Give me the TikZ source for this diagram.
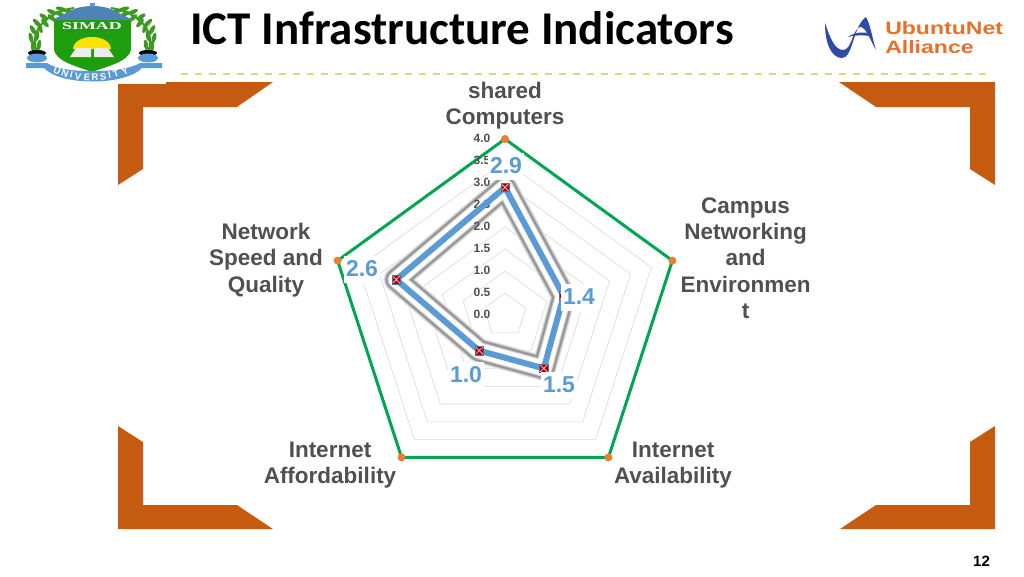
\documentclass[tikz,border=0pt]{standalone}
\usepackage{fontspec}
\setmainfont{Liberation Sans}
\newfontfamily\titlefont{Carlito}
\newfontfamily\logofont{Liberation Serif}
\usetikzlibrary{shapes.geometric}
\definecolor{bracketorange}{HTML}{C55A11}
\definecolor{ringgreen}{HTML}{00A651}
\definecolor{dotorange}{HTML}{ED7D31}
\definecolor{seriesblue}{HTML}{5B9BD5}
\definecolor{labelgray}{HTML}{505050}
\definecolor{shieldgreen}{HTML}{1E9E0E}
\definecolor{leafgreen}{HTML}{3C9A1E}
\definecolor{ubuntublue}{HTML}{2F4BA8}
\definecolor{ubuntuorange}{HTML}{E8702A}
\tikzset{
	axislabel/.style={text=labelgray, font=\fontsize{22.5}{26.3}\selectfont\bfseries, align=center, inner sep=0pt},
	ticklabel/.style={text=labelgray, font=\fontsize{12}{14}\selectfont\bfseries, inner sep=0pt},
	valuelabel/.style={fill=white, text=seriesblue, font=\fontsize{23}{26}\selectfont\bfseries, inner sep=0pt, minimum width=36pt, minimum height=27pt},
	bracket/.style={fill=bracketorange},
	outerdot/.style={circle, fill=dotorange, inner sep=0pt, minimum size=8pt},
	marker/.style={rectangle, fill=red!70!black, draw=gray!80!blue, line width=0.5pt, inner sep=0pt, minimum size=8.5pt, path picture={\draw[gray!30, line width=0.7pt] (path picture bounding box.south west) -- (path picture bounding box.north east) (path picture bounding box.south east) -- (path picture bounding box.north west);}},
	leaf/.style={fill=leafgreen, ellipse, inner sep=0pt, minimum width=11pt, minimum height=4.4pt},
	ring/.style={gray!30, line width=0.6pt}
}
\newcommand{\ringpath}[1]{({505+22*#1*sin(0)},{315-22*#1*cos(0)}) -- ({505+22*#1*sin(72)},{315-22*#1*cos(72)}) --
	({505+22*#1*sin(144)},{315-22*#1*cos(144)}) -- ({505+22*#1*sin(216)},{315-22*#1*cos(216)}) --
	({505+22*#1*sin(288)},{315-22*#1*cos(288)}) -- cycle}
\begin{document}
\begin{tikzpicture}[x=1pt, y=-1pt]
	\useasboundingbox[fill=white] (0,0) rectangle (1024,576);

	% title and rule
	\node[inner sep=0pt, anchor=west, font=\titlefont\fontsize{47}{50}\selectfont\bfseries] (title) at (190,28) {ICT Infrastructure Indicators};
	\coordinate (ruleleft) at (181,74);
	\coordinate (ruleright) at (987,74);
	\draw[draw=yellow!55!gray!70, line width=1.4pt, dash pattern=on 7pt off 7pt] (ruleleft) -- (ruleright);

	% corner brackets
	\fill[bracket] (118,84) -- (166,84) -- (166,82) -- (273,82) -- (237,107) -- (143,107) -- (143,169) -- (118,185) -- cycle;
	\fill[bracket] (839,82) -- (995,82) -- (995,185) -- (970,169) -- (970,107) -- (876,107) -- cycle;
	\fill[bracket] (118,426) -- (143,442) -- (143,505) -- (237,505) -- (273,529) -- (118,529) -- cycle;
	\fill[bracket] (995,426) -- (995,529) -- (840,529) -- (876,505) -- (970,505) -- (970,442) -- cycle;

	% simad logo
	\draw[leafgreen, line width=2pt] (37,52) .. controls (28,30) and (48,12) .. (74,8);
	\draw[leafgreen, line width=2pt] (148,52) .. controls (157,30) and (137,12) .. (111,8);
	\foreach \x/\y/\a in {33/46/90, 31/38/75, 33/30/60, 37/23/45, 44/17/35, 52/12/25, 61/9/15,
		39/45/100, 37/36/100, 40/28/70, 45/23/50, 52/18/40, 60/14/25, 68/11/15}
	{
		\node[leaf, rotate=-\a] at (\x,\y) {};
		\node[leaf, rotate=\a] at (185-\x,\y) {};
	}
	\fill[black] (37,53) ellipse (9 and 3);
	\fill[black] (148,53) ellipse (9 and 3);
	\fill[seriesblue] (37,58) ellipse (10 and 4.5);
	\fill[seriesblue] (148,58) ellipse (10 and 4.5);
	\fill[shieldgreen] (54,20) -- (131,20) -- (131,50) .. controls (128,62) and (108,66) .. (92,72) .. controls (76,66) and (57,62) .. (54,50) -- cycle;
	\fill[seriesblue] (26,63) -- (47,63) .. controls (62,74) and (122,74) .. (140,63) -- (162,63) -- (162,68) -- (142,68) .. controls (125,86) and (60,86) .. (44,68) -- (26,68) -- cycle;
	\fill[seriesblue!85!black] (52,20) -- (74,9) .. controls (85,5) and (100,5) .. (111,9) -- (133,20) -- cycle;
	\fill[seriesblue] (89.5,2.5) rectangle (94.5,7);
	\fill[yellow!85!orange] (73,49) .. controls (74,33) and (110,33) .. (111,49) -- cycle;
	\fill[white!85!gray] (76,48) -- (91,48) -- (91,57) -- (70,57) -- cycle;
	\fill[white!85!gray] (94,48) -- (108,48) -- (114,57) -- (94,57) -- cycle;
	\node[inner sep=0pt, text=white, xscale=1.7, transform shape, font=\logofont\fontsize{10.5}{11}\selectfont\bfseries] (simad) at (92,26.5) {SIMAD};
	\foreach \c/\x/\y/\a in {U/57/71/-24, N/65/73.5/-19, I/71.5/75/-14, V/78/76.5/-9, E/87/77/-3, R/95/77/2, S/103/76.5/7, I/109.5/75/12, T/116/73.5/17, Y/125/71/23}
		\node[inner sep=0pt, text=white, rotate=\a, font=\fontsize{9.5}{10}\selectfont\bfseries] at (\x,\y) {\c};

	% ubuntunet logo
	\fill[ubuntublue] (825,23) .. controls (825,45) and (832,58) .. (842,58) .. controls (853,58) and (853,26) .. (866,17) .. controls (871,26) and (873,42) .. (876,50) .. controls (872,44) and (866,26) .. (860,27) .. controls (852,30) and (852,50) .. (843,50) .. controls (835,50) and (830,38) .. (825,23) -- cycle;
	\fill[ubuntublue] (848,37) .. controls (855,32) and (862,32) .. (869,33) -- (870,36) .. controls (862,35) and (855,35) .. (848,37) -- cycle;
	\node[inner sep=0pt, anchor=west, align=left, text=ubuntuorange, xscale=1.28, transform shape, font=\fontsize{18}{19.5}\selectfont\bfseries] (ubuntu) at (885,37.5) {UbuntuNet\\Alliance};

	% rings
	\foreach \v in {1,...,7}
		\draw[ring] \ringpath{\v};

	% outer ring
	\foreach \i in {0,...,4}
		\coordinate (outer\i) at ({505+176*sin(72*\i)},{315-176*cos(72*\i)});
	\draw[ringgreen, line width=3pt] (outer0) -- (outer1) -- (outer2) -- (outer3) -- (outer4) -- cycle;
	\foreach \i in {0,...,4}
		\node[outerdot] (dot\i) at (outer\i) {};

	% series
	\foreach \i/\r in {0/2.9,1/1.4,2/1.5,3/1.0,4/2.6}
		\coordinate (point\i) at ({505+44*\r*sin(72*\i)},{315-44*\r*cos(72*\i)});
	\foreach \w/\c in {26/3,25/8,24/14,23/22,22/30,21/38,20/44,19/44,18/34,17/24,16/14,15/7}
		\draw[line width=\w pt, black!\c, line join=round] (point0) -- (point1) -- (point2) -- (point3) -- (point4) -- cycle;
	\draw[line width=14pt, white, line join=round] (point0) -- (point1) -- (point2) -- (point3) -- (point4) -- cycle;

	% scale
	\foreach \v/\t in {0/0.0,1/0.5,2/1.0,3/1.5,4/2.0,5/2.5,6/3.0,7/3.5,8/4.0}
		\node[ticklabel] (tick\v) at (482,314.7-22.05*\v) {\t};

	\draw[seriesblue, line width=6pt, line join=round] (point0) -- (point1) -- (point2) -- (point3) -- (point4) -- cycle;
	\foreach \i in {0,...,4}
		\node[marker] (mark\i) at (point\i) {};

	% value labels
	\node[valuelabel] (value0) at (506,166) {2.9};
	\node[valuelabel] (value1) at (579,297) {1.4};
	\node[valuelabel] (value2) at (559,385) {1.5};
	\node[valuelabel] (value3) at (466,375) {1.0};
	\node[valuelabel] (value4) at (362,269) {2.6};

	% axis labels
	\node[axislabel] (shared) at (505,106) {shared\\Computers};
	\node[axislabel] (campus) at (745.5,258) {Campus\\Networking\\and\\Environmen\\t};
	\node[axislabel] (avail) at (673,465) {Internet\\Availability};
	\node[axislabel] (afford) at (330,465) {Internet\\Affordability};
	\node[axislabel] (speed) at (266,260) {Network\\Speed and\\Quality};

	\node[inner sep=0pt, font=\fontsize{15}{16}\selectfont\bfseries] (pageno) at (981.5,561.5) {12};
\end{tikzpicture}
\end{document}
